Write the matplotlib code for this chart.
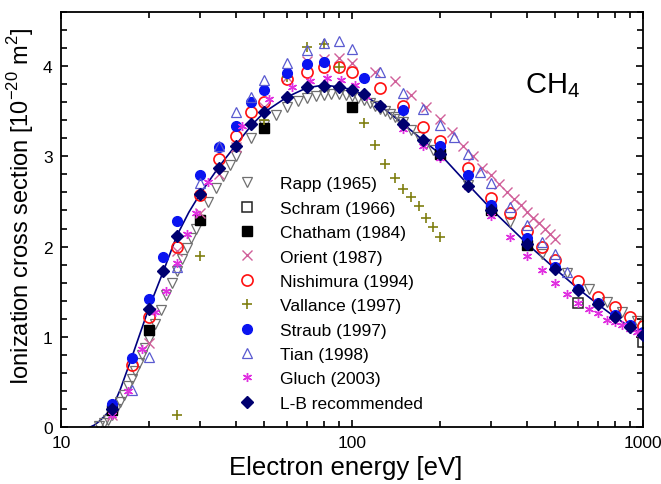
import matplotlib
matplotlib.use("Agg")
import matplotlib.pyplot as plt
from matplotlib.ticker import MultipleLocator, LogLocator, NullFormatter, FixedLocator

plt.rcParams["font.family"] = ["Liberation Sans", "DejaVu Sans"]
plt.rcParams["mathtext.fontset"] = "custom"
plt.rcParams["mathtext.rm"] = "Liberation Sans"

# data (energy in eV, cross section in 1e-20 m^2)
rapp_e = [13.5, 14, 14.5, 15, 15.5, 16, 16.5, 17, 17.5, 18, 18.5, 19, 19.5, 20,
          21, 22, 23, 24, 25, 26, 27, 28, 29, 30, 32, 34, 36, 38, 40, 45, 50, 55,
          60, 65, 70, 75, 80, 85, 90, 95, 100, 105, 110, 115, 120, 125, 130, 135,
          140, 145, 150, 160, 170, 180, 190, 200, 250, 300, 350, 450, 550, 650,
          750, 850, 950]
rapp_s = [0.01, 0.04, 0.08, 0.13, 0.2, 0.28, 0.36, 0.45, 0.53, 0.62, 0.71, 0.8, 0.88, 0.97,
          1.14, 1.3, 1.46, 1.6, 1.73, 1.86, 1.98, 2.1, 2.2, 2.3, 2.49, 2.65, 2.78, 2.9, 3.0,
          3.2, 3.35, 3.46, 3.55, 3.61, 3.65, 3.67, 3.68, 3.69, 3.69, 3.68, 3.67, 3.65,
          3.62, 3.59, 3.56, 3.53, 3.5, 3.47, 3.44, 3.41, 3.38, 3.29, 3.21, 3.14, 3.07,
          3.0, 2.68, 2.42, 2.27, 1.92, 1.71, 1.53, 1.39, 1.28, 1.18]

schram_e = [600, 1000]
schram_s = [1.38, 0.94]

chatham_e = [15, 20, 30, 50, 100, 200, 300, 400]
chatham_s = [0.19, 1.07, 2.3, 3.31, 3.55, 3.03, 2.4, 2.02]

orient_e = [15, 20, 25, 30, 35, 40, 50, 60, 70, 80, 90, 100, 120, 140, 160, 180,
            200, 220, 240, 260, 280, 300, 320, 340, 360, 380, 400, 420, 440, 460,
            480, 500]
orient_s = [0.13, 0.93, 1.95, 2.37, 2.8, 3.1, 3.55, 3.88, 4.06, 4.08, 4.09, 4.04,
            3.93, 3.83, 3.68, 3.55, 3.41, 3.27, 3.12, 3.0, 2.87, 2.79, 2.69, 2.61,
            2.53, 2.46, 2.38, 2.32, 2.26, 2.2, 2.14, 2.08]

nishimura_e = [17.5, 20, 25, 30, 35, 40, 45, 50, 60, 70, 80, 90, 100, 125, 150,
               175, 200, 250, 300, 350, 400, 450, 500, 600, 700, 800, 900, 1000]
nishimura_s = [0.69, 1.22, 2.0, 2.57, 2.97, 3.23, 3.49, 3.6, 3.86, 3.94, 3.99, 3.99,
               3.94, 3.76, 3.56, 3.32, 3.17, 2.87, 2.54, 2.37, 2.17, 2.0, 1.85, 1.62,
               1.44, 1.33, 1.22, 1.12]

vallance_e = [25, 30, 50, 60, 70, 80, 90, 100, 110, 120, 130, 140, 150, 160, 170,
              180, 190, 200]
vallance_s = [0.13, 1.9, 3.4, 3.88, 4.21, 4.24, 3.99, 3.74, 3.37, 3.13, 2.91, 2.76,
              2.64, 2.55, 2.45, 2.32, 2.22, 2.11]

straub_e = [15, 17.5, 20, 22.5, 25, 30, 35, 40, 45, 50, 60, 70, 80, 110, 150, 200,
            250, 300, 400, 500, 600, 700, 800, 900, 1000]
straub_s = [0.25, 0.76, 1.42, 1.88, 2.28, 2.79, 3.1, 3.34, 3.6, 3.73, 3.92, 4.02,
            4.05, 3.87, 3.51, 3.12, 2.79, 2.46, 2.09, 1.77, 1.53, 1.37, 1.24, 1.13, 1.05]

tian_e = [17.5, 20, 25, 30, 35, 40, 45, 50, 60, 70, 80, 90, 100, 125, 150, 175,
          200, 225, 250, 275, 300, 350, 400, 450, 500, 550]
tian_s = [0.41, 0.78, 1.77, 2.71, 3.12, 3.49, 3.66, 3.85, 4.04, 4.18, 4.26, 4.28,
          4.19, 3.94, 3.7, 3.53, 3.35, 3.21, 3.03, 2.83, 2.7, 2.44, 2.24, 2.05, 1.92, 1.72]

gluch_e = [15, 17, 19, 21, 23, 25, 27, 29, 32, 42, 52, 62, 72, 82, 92, 102, 112,
           125, 150, 175, 200, 250, 300, 350, 400, 450, 500, 550, 600, 650, 700,
           750, 800, 850, 900, 950, 1000]
gluch_s = [0.13, 0.4, 0.86, 1.27, 1.51, 1.82, 2.14, 2.37, 2.72, 3.34, 3.64, 3.77,
           3.84, 3.87, 3.85, 3.79, 3.67, 3.56, 3.3, 3.12, 2.98, 2.66, 2.34, 2.11, 1.9,
           1.74, 1.6, 1.47, 1.38, 1.31, 1.26, 1.19, 1.16, 1.13, 1.09, 1.05, 1.01]

lb_e = [15, 20, 22.5, 25, 30, 35, 40, 45, 50, 60, 70, 80, 90, 100, 110, 125, 150,
        175, 200, 250, 300, 400, 500, 600, 700, 800, 900, 1000]
lb_s = [0.2, 1.31, 1.73, 2.12, 2.58, 2.87, 3.12, 3.36, 3.49, 3.66, 3.77, 3.78, 3.77,
        3.74, 3.69, 3.56, 3.36, 3.18, 3.03, 2.67, 2.4, 2.03, 1.75, 1.52, 1.36, 1.22,
        1.11, 1.02]

# recommended curve
curve_e = [12.6, 13, 13.5, 14, 15, 16, 17.5, 20, 22.5, 25, 27.5, 30, 35, 40, 45, 50,
           60, 70, 80, 90, 100, 110, 125, 150, 175, 200, 250, 300, 400, 500, 600,
           700, 800, 900, 1000]
curve_s = [0.0, 0.02, 0.06, 0.11, 0.21, 0.42, 0.77, 1.31, 1.73, 2.12, 2.38, 2.58,
           2.89, 3.13, 3.34, 3.49, 3.66, 3.76, 3.79, 3.77, 3.74, 3.68, 3.56, 3.36, 3.18,
           3.03, 2.69, 2.42, 2.03, 1.75, 1.53, 1.36, 1.22, 1.11, 1.02]

fig = plt.figure(figsize=(6.61, 4.85), dpi=100)
ax = fig.add_axes([61 / 661, 1 - 428 / 485, (643 - 61) / 661, (428 - 13) / 485])

ax.plot(curve_e, curve_s, "-", color="#000080", lw=1.2, zorder=2)

ax.plot(rapp_e, rapp_s, "v", ms=6.5, mfc="none", mec="#707070", mew=0.9, ls="none", label="Rapp (1965)")
ax.plot(schram_e, schram_s, "s", ms=6.5, mfc="none", mec="#222222", mew=1.1, ls="none", label="Schram (1966)")
ax.plot(chatham_e, chatham_s, "s", ms=7, color="black", ls="none", label="Chatham (1984)")
ax.plot(orient_e, orient_s, "x", ms=6.5, mec="#d0609a", mew=1.0, ls="none", label="Orient (1987)")
ax.plot(nishimura_e, nishimura_s, "o", ms=8, mfc="none", mec="#ff1010", mew=1.2, ls="none", label="Nishimura (1994)")
ax.plot(vallance_e, vallance_s, "+", ms=7.5, mec="#7f7f10", mew=1.2, ls="none", label="Vallance (1997)")
ax.plot(straub_e, straub_s, "o", ms=7, color="#0a14f0", ls="none", label="Straub (1997)")
ax.plot(tian_e, tian_s, "^", ms=6.5, mfc="none", mec="#5a5ad0", mew=0.9, ls="none", label="Tian (1998)")
ax.plot(gluch_e, gluch_s, marker=(6, 2, 0), ms=6.5, mec="#e030e0", mew=1.0, ls="none", label="Gluch (2003)")
ax.plot(lb_e, lb_s, "D", ms=6, color="#000070", ls="none", label="L-B recommended", zorder=4)

ax.set_xscale("log")
ax.set_xlim(10, 1000)
ax.set_ylim(0, 4.6)
ax.xaxis.set_major_locator(FixedLocator([10, 100, 1000]))
ax.set_xticklabels(["10", "100", "1000"])
ax.xaxis.set_minor_locator(LogLocator(base=10, subs=range(2, 10)))
ax.xaxis.set_minor_formatter(NullFormatter())
ax.yaxis.set_major_locator(MultipleLocator(1))
ax.yaxis.set_minor_locator(MultipleLocator(0.2))

ax.tick_params(which="both", direction="in", top=True, right=True, labelsize=12.5, width=1.2)
ax.tick_params(which="major", length=5, pad=6)
ax.tick_params(which="minor", length=4)
for sp in ax.spines.values():
    sp.set_linewidth(1.3)

ax.set_xlabel("Electron energy [eV]", fontsize=18.5)
ax.xaxis.set_label_coords(0.49, -0.068)
ax.set_ylabel("Ionization cross section [10$^{-20}$ m$^2$]", fontsize=17)
ax.yaxis.set_label_coords(-0.043, 0.535)

ax.text(0.845, 0.825, "CH$_4$", transform=ax.transAxes, fontsize=21, ha="center", va="center")

ax.legend(loc="upper left", bbox_to_anchor=(0.29, 0.625), frameon=False, fontsize=12.5,
          handlelength=1.0, handletextpad=1.4, labelspacing=0.53, borderpad=0, numpoints=1)

fig.savefig("out.png", dpi=100)
